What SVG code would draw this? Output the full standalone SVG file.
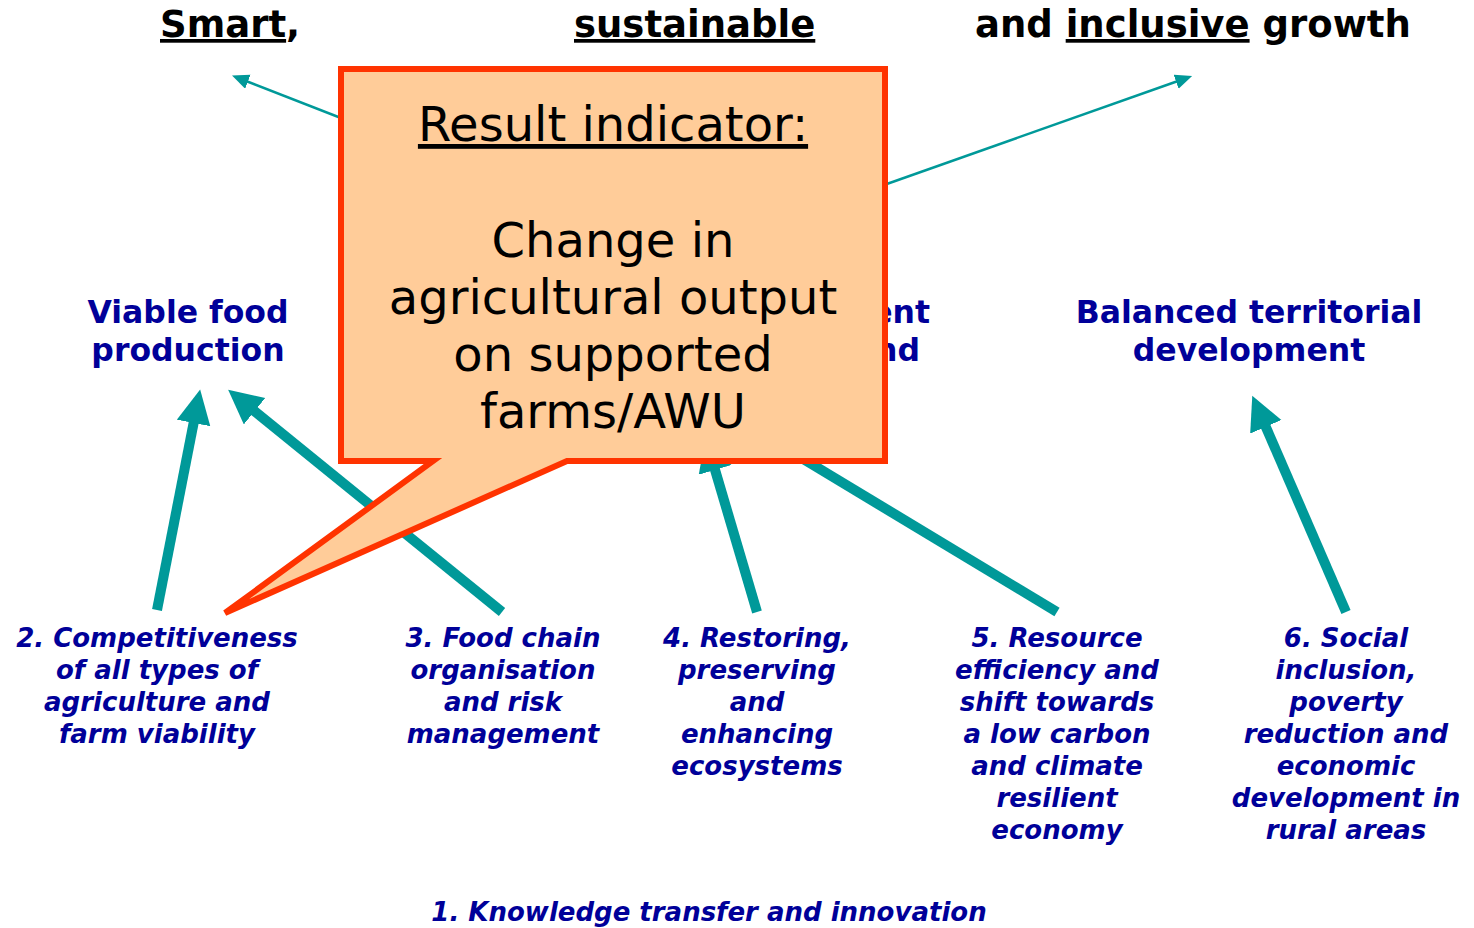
<svg xmlns="http://www.w3.org/2000/svg" width="1474" height="928" viewBox="0 0 1474 928">
<defs>
<style>
.title{font-family:"DejaVu Sans","Verdana",sans-serif;font-weight:bold;font-size:37px;fill:#000}
.ul{text-decoration:underline;text-decoration-thickness:3px}
.head{font-family:"DejaVu Sans","Verdana",sans-serif;font-weight:bold;font-size:31.5px;fill:#000099;text-anchor:middle}
.prio{font-family:"DejaVu Sans","Verdana",sans-serif;font-weight:bold;font-style:italic;font-size:26px;fill:#000099;text-anchor:middle}
.call{font-family:"DejaVu Sans","Verdana",sans-serif;font-size:48px;fill:#000;text-anchor:middle}
.thick{stroke:#009999;stroke-width:10;fill:none;marker-end:url(#bighead)}
.thin{stroke:#009999;stroke-width:2.5;fill:none;marker-end:url(#smallhead)}
</style>
<marker id="bighead" markerUnits="userSpaceOnUse" markerWidth="40" markerHeight="40" refX="2" refY="17" orient="auto">
<path d="M0,0 L34,17 L0,34 Z" fill="#009999"/>
</marker>
<marker id="smallhead" markerUnits="userSpaceOnUse" markerWidth="20" markerHeight="18" refX="2" refY="7.5" orient="auto">
<path d="M0,0 L17,7.5 L0,15 Z" fill="#009999"/>
</marker>
<clipPath id="rightOfBox"><rect x="888" y="280" width="120" height="100"/></clipPath>
</defs>
<rect width="1474" height="928" fill="#fff"/>

<g id="title">
<text class="title" x="160" y="37"><tspan class="ul">Smart</tspan>,</text>
<text class="title" x="574" y="37"><tspan class="ul">sustainable</tspan></text>
<text class="title" x="975" y="37">and <tspan class="ul">inclusive</tspan> growth</text>
</g>

<g id="obj-viable">
<text class="head" x="188" y="323">Viable food</text>
<text class="head" x="188" y="361">production</text>
</g>
<g id="obj-sustainable" clip-path="url(#rightOfBox)">
<text class="head" x="930" y="323" style="text-anchor:end">ent</text>
<text class="head" x="920" y="361" style="text-anchor:end">nd</text>
</g>
<g id="obj-balanced">
<text class="head" x="1249" y="323">Balanced territorial</text>
<text class="head" x="1249" y="361">development</text>
</g>

<g id="connectors">
<line class="thin" x1="400" y1="141" x2="246" y2="81"/>
<line class="thin" x1="850" y1="197" x2="1178" y2="81"/>
<line class="thick" x1="157" y1="610" x2="194" y2="421"/>
<line class="thick" x1="502" y1="612" x2="253" y2="410"/>
<line class="thick" x1="757" y1="612" x2="714.5" y2="468"/>
<line class="thick" x1="1057" y1="612" x2="780" y2="445"/>
<line class="thick" x1="1346" y1="612" x2="1265" y2="425"/>
</g>

<g id="prio2">
<text class="prio" x="157" y="647">2. Competitiveness</text>
<text class="prio" x="157" y="679">of all types of</text>
<text class="prio" x="157" y="711">agriculture and</text>
<text class="prio" x="157" y="743">farm viability</text>
</g>
<g id="prio3">
<text class="prio" x="503" y="647">3. Food chain</text>
<text class="prio" x="503" y="679">organisation</text>
<text class="prio" x="503" y="711">and risk</text>
<text class="prio" x="503" y="743">management</text>
</g>
<g id="prio4">
<text class="prio" x="757" y="647">4. Restoring,</text>
<text class="prio" x="757" y="679">preserving</text>
<text class="prio" x="757" y="711">and</text>
<text class="prio" x="757" y="743">enhancing</text>
<text class="prio" x="757" y="775">ecosystems</text>
</g>
<g id="prio5">
<text class="prio" x="1057" y="647">5. Resource</text>
<text class="prio" x="1057" y="679">efficiency and</text>
<text class="prio" x="1057" y="711">shift towards</text>
<text class="prio" x="1057" y="743">a low carbon</text>
<text class="prio" x="1057" y="775">and climate</text>
<text class="prio" x="1057" y="807">resilient</text>
<text class="prio" x="1057" y="839">economy</text>
</g>
<g id="prio6">
<text class="prio" x="1346" y="647">6. Social</text>
<text class="prio" x="1346" y="679">inclusion,</text>
<text class="prio" x="1346" y="711">poverty</text>
<text class="prio" x="1346" y="743">reduction and</text>
<text class="prio" x="1346" y="775">economic</text>
<text class="prio" x="1346" y="807">development in</text>
<text class="prio" x="1346" y="839">rural areas</text>
</g>
<g id="prio1">
<text class="prio" x="709" y="921">1. Knowledge transfer and innovation</text>
</g>

<g id="callout">
<path d="M341,69 H885 V461 H567 L225,613 L433,461 H341 Z" fill="#ffcc99" stroke="#ff3300" stroke-width="6" stroke-miterlimit="4"/>
<text class="call" x="613" y="141"><tspan style="text-decoration:underline">Result indicator:</tspan></text>
<text class="call" x="613" y="257">Change in</text>
<text class="call" x="613" y="314">agricultural output</text>
<text class="call" x="613" y="371">on supported</text>
<text class="call" x="613" y="428">farms/AWU</text>
</g>
</svg>
